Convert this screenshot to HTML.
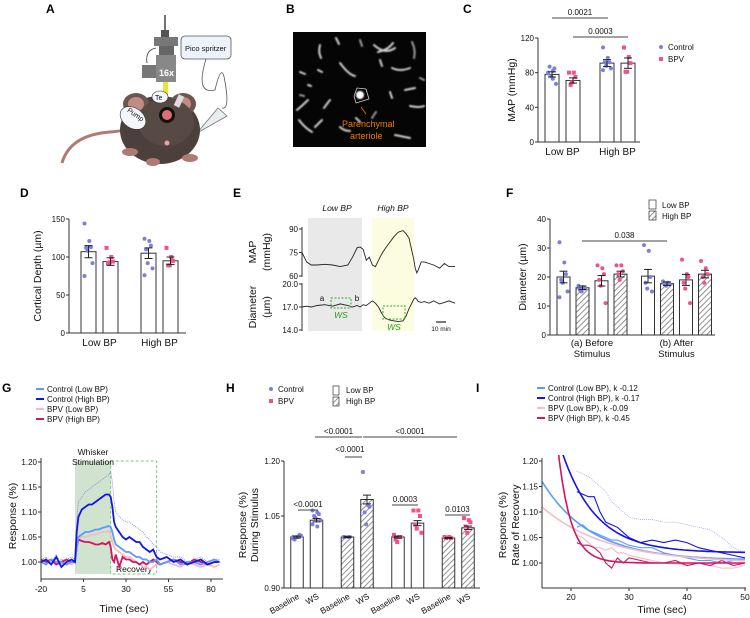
<!DOCTYPE html>
<html><head><meta charset="utf-8">
<style>
html,body{margin:0;padding:0;background:#fff;}
svg{display:block;font-family:"Liberation Sans",Arial,sans-serif;}
</style></head>
<body>
<svg id="fig" width="750" height="618" viewBox="0 0 750 618" xmlns="http://www.w3.org/2000/svg">
<defs>
<pattern id="hatch" patternUnits="userSpaceOnUse" width="4" height="4" patternTransform="rotate(45)">
<rect width="4" height="4" fill="#fff"/><line x1="0" y1="0" x2="0" y2="4" stroke="#777" stroke-width="1.6"/>
</pattern>
<clipPath id="clipI"><rect x="542" y="455" width="205" height="134"/></clipPath>
<filter id="soft" x="-10%" y="-10%" width="120%" height="120%"><feGaussianBlur stdDeviation="0.8"/></filter>
</defs>

<!-- Panel labels -->
<g font-weight="bold" font-size="12" fill="#000">
<text x="46" y="13">A</text>
<text x="286" y="13">B</text>
<text x="463" y="13">C</text>
<text x="20" y="197">D</text>
<text x="233" y="197">E</text>
<text x="506" y="197">F</text>
<text x="2" y="392">G</text>
<text x="226" y="392">H</text>
<text x="476" y="392">I</text>
</g>

<!-- Panel A illustration -->
<g id="panelA">
<path d="M62 163 Q70 135 110 132 Q125 131 128 128" stroke="#b07a72" stroke-width="3" fill="none"/>
<line x1="165" y1="15" x2="165" y2="33" stroke="#444" stroke-width="1.5"/>
<rect x="161" y="30" width="8" height="7" fill="#555"/>
<rect x="154" y="37" width="24" height="9" fill="#777"/>
<rect x="159" y="46" width="15" height="9" fill="#666"/>
<rect x="156" y="55" width="20" height="27" fill="#888"/>
<rect x="142" y="65" width="14" height="13" fill="#777"/>
<text x="159" y="76" font-size="9" font-weight="bold" fill="#fff">16x</text>
<path d="M156 48 Q145 50 147 63" stroke="#333" fill="none" stroke-width="0.8"/>
<rect x="163" y="82" width="5" height="28" fill="#e6e63a"/>
<rect x="181" y="36" width="50" height="23" rx="4" fill="#eef3fb" stroke="#555" stroke-width="0.8"/>
<text x="185" y="51" font-size="7.5" fill="#111">Pico spritzer</text>
<path d="M206 59 Q195 95 215 90 Q222 60 225 82 Q230 110 222 108" stroke="#555" fill="none" stroke-width="0.8"/>
<polygon points="197,133 218,108 227,116" fill="#e8eef0" stroke="#777" stroke-width="0.8"/>
<ellipse cx="160" cy="130" rx="40" ry="34" fill="#4b403c"/>
<ellipse cx="136" cy="104" rx="13" ry="11" fill="#6b5650"/><ellipse cx="136" cy="104" rx="8" ry="7" fill="#c48a86"/>
<ellipse cx="183" cy="104" rx="13" ry="11" fill="#6b5650"/><ellipse cx="183" cy="104" rx="8" ry="7" fill="#c48a86"/>
<ellipse cx="166" cy="122" rx="28" ry="24" fill="#574a45"/>
<circle cx="167" cy="115" r="8" fill="#111"/><circle cx="167" cy="115" r="5" fill="#e07070"/>
<circle cx="167" cy="143" r="2.5" fill="#e8a0a0"/>
<ellipse cx="133" cy="118" rx="14" ry="10" fill="#f4f6fb" stroke="#333" stroke-width="0.6" transform="rotate(35 133 118)"/>
<text x="124" y="116" font-size="7" transform="rotate(35 133 118)" fill="#111">Pump</text>
<ellipse cx="160" cy="97" rx="8" ry="6" fill="#f4f6fb" stroke="#333" stroke-width="0.6"/>
<text x="155" y="100" font-size="7" fill="#111">Te</text>
<rect x="176" y="95" width="6" height="12" fill="#ddd" transform="rotate(25 179 101)"/>
<ellipse cx="130" cy="152" rx="8" ry="4" fill="#b07a72"/><ellipse cx="190" cy="158" rx="8" ry="4" fill="#b07a72"/><ellipse cx="153" cy="162" rx="7" ry="4" fill="#b07a72"/>
</g>

<!-- Panel B image -->
<g id="panelB">
<rect x="293" y="32" width="133" height="115" fill="#050505"/>
<g stroke="#cfcfcf" stroke-linecap="round" fill="none" stroke-width="2" filter="url(#soft)">
<path d="M320 45 Q318 52 321 58"/><path d="M336 38 L339 44"/><path d="M374 45 Q385 55 395 48"/><path d="M393 43 Q388 50 378 52"/>
<path d="M300 72 L305 74"/><path d="M340 63 Q349 75 355 76"/><path d="M318 70 L322 72"/><path d="M410 68 Q400 72 392 68"/>
<path d="M297 110 Q303 105 308 100"/><path d="M315 127 L322 120"/><path d="M330 100 Q326 105 324 108"/><path d="M390 92 L392 98"/>
<path d="M405 90 L415 88"/><path d="M340 127 Q344 131 350 131"/><path d="M395 135 L410 138"/><path d="M299 120 Q305 128 312 132"/>
<path d="M410 106 Q420 108 424 106"/><path d="M380 60 L382 66"/><path d="M356 118 L360 122"/><path d="M308 85 L311 86"/>
<path d="M412 42 Q416 50 414 58" stroke="#999"/><path d="M360 40 L362 46" stroke="#999"/><path d="M300 95 L304 96" stroke="#999"/>
<path d="M420 78 L424 80" stroke="#999"/><path d="M372 118 L376 112" stroke="#999"/>
</g>
<circle cx="360" cy="95" r="4" fill="#fff" filter="url(#soft)"/>
<polygon points="354,96 357,88 366,89 369,99 356,103" fill="none" stroke="#ccc" stroke-width="0.8"/>
<line x1="366" y1="114" x2="361" y2="107" stroke="#f07a00" stroke-width="0.8"/>
<text x="342" y="127" font-size="9" fill="#f07a00">Parenchymal</text>
<text x="350" y="139" font-size="9" fill="#f07a00">arteriole</text>
</g>

<g id="charts"></g>
</svg>

<script>
// ===================== DATA =====================
// Panel C (MAP)
const cCategories = ["Low BP", "High BP"];
const cMeans = [78, 71, 91, 91];
const cErr = [3, 3, 4, 6];
const cDots = [[79,82,85,87,76,67,80,73],[80,80,75,66,69],[109,97,92,92,88,85,83],[109,98,91,81,81]];
const cTicks = [0, 40, 80, 120];
// Panel D (Cortical depth)
const dMeans = [107, 94, 105, 95];
const dErr = [8, 5, 7, 5];
const dDots = [[144,121,113,112,108,92,75],[112,100,94,92,93],[124,121,115,110,92,85,76],[112,100,95,89,89]];
const dTicks = [0, 50, 100, 150];
// Panel E traces
const eTime = [0,3,6,10,15,20,25,30,33,36,38,40,42,44,46,48,50,52,54,57,60,63,66,68,70,72,73,74,75,76,78,80,83,86,90,93,96,100];
const eMap = [75,69,67,67,67.5,67,66,67,72,78,78.5,77,70,72,67,66,70,74,77,81,85,88,89,87,84,75,71,65,62,64,69,69,68,67,65,68,66,66];
const eDiam = [17,17.1,17.0,17.2,17.3,17.1,17.4,17.2,17.0,17.2,17.0,17.3,17.2,17.5,17.8,17.5,17.0,16.2,15.6,15.3,15.2,15.1,15.2,15.8,16.8,17.6,18.0,18.2,18.0,17.7,17.6,17.7,17.5,17.8,17.4,17.6,17.8,17.5];
const eMapTicks = [60, 75, 90];
const eDiamTicks = [14.0, 17.0, 20.0];
// Panel F (Diameter)
const fCategories = ["(a) Before|Stimulus", "(b) After|Stimulus"];
const fMeans = [20, 16.3, 18.7, 21, 20.3, 17.7, 19, 21];
const fErr = [2, 0.6, 1.8, 1, 2.3, 0.6, 1.9, 1.3];
const fDots = [[32,25,21,19,18,15,13],[17,16.5,16,15.5,15],[24,23,21,19,17,11],[24,24,22,21,19],[31,29,20,18,16,15],[18.5,18,17.5,17.5,17],[26,21,20,18,16,11],[25.5,23,21,20,18]];
const fTicks = [0, 10, 20, 30, 40];
// Panel G (time course)
const gTime = [-20,-17,-14,-11,-8,-5,-2,0,1,2,4,6,8,10,12,14,16,18,20,21,22,23,24,26,28,30,32,34,36,38,40,42,44,46,48,50,54,58,62,66,70,74,78,82,85];
const gCtrlHigh = [1.0,1.005,0.995,1.01,0.99,1.0,1.005,1.0,1.06,1.09,1.105,1.11,1.115,1.115,1.12,1.125,1.13,1.135,1.135,1.13,1.11,1.08,1.07,1.06,1.05,1.045,1.05,1.045,1.04,1.04,1.03,1.025,1.02,1.025,1.01,1.005,1.01,1.0,1.005,0.995,1.0,1.005,0.995,1.0,1.0];
const gCtrlHighUpper = [1.005,1.01,1.0,1.015,0.995,1.005,1.01,1.005,1.08,1.12,1.13,1.14,1.145,1.15,1.155,1.16,1.165,1.17,1.175,1.18,1.16,1.12,1.1,1.09,1.085,1.08,1.08,1.075,1.07,1.065,1.06,1.05,1.045,1.035,1.03,1.02,1.015,1.01,1.01,1.0,1.005,1.01,1.0,1.005,1.005];
const gCtrlLow = [1.0,0.995,1.005,1.0,1.0,0.995,1.0,1.0,1.03,1.05,1.055,1.06,1.06,1.062,1.065,1.065,1.068,1.07,1.072,1.07,1.06,1.045,1.035,1.03,1.025,1.02,1.02,1.015,1.01,1.01,1.005,1.005,1.0,1.0,1.005,0.995,1.0,1.005,0.995,1.0,1.0,0.995,1.0,1.005,1.0];
const gBpvLow = [1.005,1.0,1.0,0.995,1.005,1.0,0.995,1.0,1.03,1.045,1.05,1.05,1.052,1.055,1.055,1.058,1.06,1.06,1.062,1.055,1.04,1.03,1.025,1.02,1.015,1.01,1.01,1.005,1.0,0.995,0.99,0.99,0.985,0.99,0.995,0.995,1.0,0.995,0.99,1.0,0.995,0.99,0.995,0.99,0.995];
const gBpvHigh = [1.005,1.0,1.005,0.995,1.0,1.005,1.0,1.0,1.03,1.045,1.042,1.04,1.04,1.038,1.035,1.035,1.038,1.035,1.04,1.03,1.005,1.0,1.015,0.99,1.01,1.005,1.005,1.0,1.0,0.995,1.0,0.995,1.0,1.005,1.0,0.995,1.0,1.005,1.0,0.995,1.005,1.0,0.995,1.0,1.0];
const gXTicks = [-20, 5, 30, 55, 80];
const gYTicks = [1.00, 1.05, 1.10, 1.15, 1.20];
// Panel H
const hCategories = ["Baseline","WS","Baseline","WS","Baseline","WS","Baseline","WS"];
const hMeans = [1.0, 1.04, 1.0, 1.095, 1.0, 1.033, 0.998, 1.022];
const hErr = [0.002, 0.004, 0.001, 0.012, 0.002, 0.006, 0.001, 0.004];
const hDots = [[1.0,1.0,1.005,0.995,1.0,1.003,0.997,1.0],[1.065,1.06,1.055,1.05,1.045,1.04,1.03,1.025],[1.0,1.0,1.0,1.0],[1.17,1.08,1.075,1.06,1.03],[1.005,1.0,1.0,0.995,0.99],[1.065,1.065,1.05,1.03,1.02,1.01],[1.0,1.0,0.998,0.998],[1.045,1.04,1.035,1.025,1.01]];
const hYTicks = [0.90, 1.05, 1.20];
// Panel I
const iTime = [21,22,23,24,25,26,27,28,29,30,32,34,36,38,40,42,44,46,48,50];
const iCtrlHigh = [1.14,1.135,1.13,1.13,1.10,1.08,1.075,1.07,1.06,1.05,1.04,1.045,1.04,1.045,1.04,1.03,1.025,1.02,1.015,1.01];
const iCtrlHighUpper = [1.18,1.175,1.17,1.16,1.15,1.14,1.12,1.11,1.10,1.09,1.085,1.085,1.08,1.08,1.075,1.07,1.065,1.05,1.03,1.02];
const iCtrlLow = [1.07,1.075,1.065,1.06,1.055,1.05,1.045,1.045,1.04,1.035,1.03,1.03,1.02,1.015,1.01,1.005,1.005,1.0,1.005,1.005];
const iBpvLow = [1.055,1.05,1.04,1.03,1.03,1.025,1.03,1.02,1.02,1.015,1.01,1.005,1.0,1.0,0.995,1.0,0.995,0.99,0.99,0.995];
const iBpvHigh = [1.04,1.035,1.035,1.03,1.02,1.0,0.99,1.01,1.0,1.01,1.005,1.0,1.0,1.005,0.995,1.0,0.995,1.005,0.995,1.0];
const iK = [0.12, 0.17, 0.09, 0.45];
const iPlateau = [1.005, 1.02, 1.0, 1.0];
const iAmp15 = [0.155, 0.356, 0.11, 0.77];
const iXTicks = [20, 30, 40, 50];
const iYTicks = [1.00, 1.05, 1.10, 1.15, 1.20];
const seriesNames = ["Control (Low BP)", "Control (High BP)", "BPV (Low BP)", "BPV (High BP)"];

// ===================== HELPERS =====================
const NS = "http://www.w3.org/2000/svg";
const root = document.getElementById("charts");
function mk(tag, attrs, parent) {
  const e = document.createElementNS(NS, tag);
  for (const k in attrs) e.setAttribute(k, attrs[k]);
  (parent || root).appendChild(e);
  return e;
}
function txt(x, y, s, size, parent, extra) {
  const t = mk("text", Object.assign({x: x, y: y, "font-size": size, fill: "#111"}, extra || {}), parent);
  t.textContent = s;
  return t;
}
const CTRL = "#7a7fe0", BPV = "#f2508c";
const COL = ["#5b9bff", "#1414e6", "#f4bcc4", "#d4145e"];

function yAxis(g, x, ticks, yf, fmt, y0, y1) {
  const ax = mk("line", {x1: x, y1: y0, x2: x, y2: y1, stroke: "#333", "stroke-width": 1}, g);
  
  
  ticks.forEach(v => {
    const y = yf(v);
    mk("line", {x1: x - 3, y1: y, x2: x, y2: y, stroke: "#333"}, g);
    const t = txt(x - 4, y + 3, fmt(v), 8, g, {"text-anchor": "end"});
    
    
  });
}
function rotLabel(x, y, s, size, g) {
  const t = txt(x, y, s, size, g, {"text-anchor": "middle", transform: "rotate(-90 " + x + " " + y + ")"});
  
  
  return t;
}
function barGroup(g, xc, w, mean, err, dots, yf, hatched, dotColor, square) {
  const yb = yf(mean);
  const r = mk("rect", {x: xc - w/2, y: yb, width: w, height: yf.bottom - yb, fill: hatched ? "url(#hatch)" : "#fff", stroke: "#333", "stroke-width": 1}, g);
  
  
  dots.forEach((v, j) => {
    const dx = ((j % 3) - 1) * 3.2 + (j % 2 ? 0.8 : -0.8);
    let d;
    if (square) d = mk("rect", {x: xc + dx - 2, y: yf(v) - 2, width: 4, height: 4, fill: dotColor}, g);
    else d = mk("circle", {cx: xc + dx, cy: yf(v), r: 2, fill: dotColor}, g);
    
    
  });
  const e1 = yf(mean + err), e2 = yf(mean - err);
  mk("line", {x1: xc, y1: e1, x2: xc, y2: e2, stroke: "#222", "stroke-width": 1}, g);
  mk("line", {x1: xc - 4, y1: e1, x2: xc + 4, y2: e1, stroke: "#222"}, g);
  mk("line", {x1: xc - 4, y1: e2, x2: xc + 4, y2: e2, stroke: "#222"}, g);
}
function sig(g, x1, x2, y, label) {
  const l = mk("line", {x1: x1, y1: y, x2: x2, y2: y, stroke: "#444", "stroke-width": 1}, g);
  
  
  const t = txt((x1 + x2) / 2, y - 3, label, 8, g, {"text-anchor": "middle"});
  
  
}
function pathFrom(xs, ys, xf, yf) {
  return xs.map((t, i) => (i ? "L" : "M") + xf(t).toFixed(1) + " " + yf(ys[i]).toFixed(1)).join(" ");
}

// ===================== PANEL C =====================
(function () {
  const g = mk("g", {});
  
  
  const yf = v => 142 - v * (104 / 120); yf.bottom = 142;
  const xC = i => 552 + i * 21 + (i >= 2 ? 13 : 0);
  cMeans.forEach((m, i) => barGroup(g, xC(i), 14, m, cErr[i], cDots[i], yf, false, i % 2 ? BPV : CTRL, i % 2 === 1));
  yAxis(g, 538, cTicks, yf, v => String(v), 38, 142);
  mk("line", {x1: 538, y1: 142, x2: 640, y2: 142, stroke: "#333"}, g);
  cCategories.forEach((c, k) => {
    const t = txt((xC(2 * k) + xC(2 * k + 1)) / 2, 155, c, 10, g, {"text-anchor": "middle"});
    
    
  });
  rotLabel(515, 90, "MAP (mmHg)", 10.5, g);
  sig(g, 552, 608, 18, "0.0021");
  sig(g, 573, 628, 37, "0.0003");
  const l1 = mk("circle", {cx: 661, cy: 47, r: 2, fill: CTRL}, g);
  
  
  txt(668, 50, "Control", 8, g);
  const l2 = mk("rect", {x: 659, y: 57, width: 4, height: 4, fill: BPV}, g);
  
  
  txt(668, 62, "BPV", 8, g);
})();

// ===================== PANEL D =====================
(function () {
  const g = mk("g", {});
  
  
  const yf = v => 333 - v * (114 / 150); yf.bottom = 333;
  const xD = i => 88.5 + i * 22 + (i >= 2 ? 16 : 0);
  dMeans.forEach((m, i) => barGroup(g, xD(i), 15, m, dErr[i], dDots[i], yf, false, i % 2 ? BPV : CTRL, i % 2 === 1));
  yAxis(g, 69, dTicks, yf, v => String(v), 219, 333);
  mk("line", {x1: 69, y1: 333, x2: 186, y2: 333, stroke: "#333"}, g);
  cCategories.forEach((c, k) => {
    const t = txt((xD(2 * k) + xD(2 * k + 1)) / 2, 346, c, 10, g, {"text-anchor": "middle"});
    
    
  });
  rotLabel(41, 276, "Cortical Depth (µm)", 10.5, g);
})();

// ===================== PANEL E =====================
(function () {
  const g = mk("g", {});
  
  
  const xf = t => 302 + t * 1.53;
  const ym = v => 229 + (90 - v) * (47 / 30);
  const yd = v => 284 + (20 - v) * (46 / 6);
  const s1 = mk("rect", {x: 308, y: 218, width: 54, height: 113, fill: "#e9e9e9"}, g);
  
  
  const s2 = mk("rect", {x: 372, y: 218, width: 42, height: 113, fill: "#fcfce0"}, g);
  
  
  txt(337, 211, "Low BP", 8.5, g, {"text-anchor": "middle", "font-style": "italic"});
  txt(393, 211, "High BP", 8.5, g, {"text-anchor": "middle", "font-style": "italic"});
  yAxis(g, 302, eMapTicks, ym, v => String(v), 227, 277);
  yAxis(g, 302, eDiamTicks, yd, v => v.toFixed(1), 283, 331);
  const p1 = mk("path", {d: pathFrom(eTime, eMap, xf, ym), fill: "none", stroke: "#222", "stroke-width": 0.9}, g);
  
  
  const p2 = mk("path", {d: pathFrom(eTime, eDiam, xf, yd), fill: "none", stroke: "#222", "stroke-width": 0.9}, g);
  
  
  const b1 = mk("rect", {x: 331, y: 298, width: 20, height: 10, fill: "none", stroke: "#3a3", "stroke-dasharray": "2,1.5"}, g);
  
  
  const b2 = mk("rect", {x: 383, y: 306, width: 22, height: 13, fill: "none", stroke: "#3a3", "stroke-dasharray": "2,1.5"}, g);
  
  
  txt(341, 318, "WS", 8.5, g, {"text-anchor": "middle", "font-style": "italic", fill: "#2a9a2a"});
  txt(394, 330, "WS", 8.5, g, {"text-anchor": "middle", "font-style": "italic", fill: "#2a9a2a"});
  txt(322, 301, "a", 8, g, {"text-anchor": "middle"});
  txt(357, 301, "b", 8, g, {"text-anchor": "middle"});
  mk("line", {x1: 436, y1: 322, x2: 446, y2: 322, stroke: "#222", "stroke-width": 1.2}, g);
  txt(441, 331, "10 min", 6.5, g, {"text-anchor": "middle"});
  rotLabel(256, 252, "MAP", 10.5, g);
  rotLabel(270, 252, "(mmHg)", 10.5, g);
  rotLabel(256, 307, "Diameter", 10.5, g);
  rotLabel(270, 307, "(µm)", 10.5, g);
})();

// ===================== PANEL F =====================
(function () {
  const g = mk("g", {});
  
  
  const yf = v => 335 - v * 2.9; yf.bottom = 335;
  const xF = i => 563.5 + i * 19 + (i >= 4 ? 8.5 : 0);
  fMeans.forEach((m, i) => barGroup(g, xF(i), 13, m, fErr[i], fDots[i], yf, i % 2 === 1, (i % 4) < 2 ? CTRL : BPV, false));
  yAxis(g, 550, fTicks, yf, v => String(v), 219, 335);
  mk("line", {x1: 550, y1: 335, x2: 715, y2: 335, stroke: "#333"}, g);
  fCategories.forEach((c, k) => {
    const cx = (xF(4 * k) + xF(4 * k + 3)) / 2;
    const parts = c.split("|");
    const t1 = txt(cx, 346, parts[0], 9.5, g, {"text-anchor": "middle"});
    
    
    txt(cx, 357, parts[1], 9.5, g, {"text-anchor": "middle"});
  });
  rotLabel(526, 277, "Diameter (µm)", 10.5, g);
  sig(g, 582, 667, 241, "0.038");
  const lb1 = mk("rect", {x: 649, y: 200, width: 7, height: 9, fill: "#fff", stroke: "#333", "stroke-width": 0.7}, g);
  
  
  txt(662, 208, "Low BP", 8, g);
  const lb2 = mk("rect", {x: 649, y: 211, width: 7, height: 9, fill: "url(#hatch)", stroke: "#333", "stroke-width": 0.7}, g);
  
  
  txt(662, 219, "High BP", 8, g);
})();

// ===================== SERIES LEGEND =====================
function seriesLegend(g, x, y0, labels) {
  labels.forEach((s, i) => {
    const y = y0 + i * 10;
    const l = mk("line", {x1: x, y1: y, x2: x + 8, y2: y, stroke: COL[i], "stroke-width": 2}, g);
    
    
    txt(x + 11, y + 3, s, 8, g);
  });
}

// ===================== PANEL G =====================
(function () {
  const g = mk("g", {});
  
  
  const xf = t => 41 + (t + 20) * 1.7;
  const yf = v => 562 - (v - 1) * 500;
  seriesLegend(g, 36, 389, seriesNames);
  const sh = mk("rect", {x: xf(0), y: 461, width: xf(21) - xf(0), height: 113, fill: "#cfe3cf"}, g);
  
  
  const rb = mk("rect", {x: xf(21), y: 461, width: xf(48) - xf(21), height: 113, fill: "none", stroke: "#7c7", "stroke-dasharray": "3,2"}, g);
  
  
  txt(93, 455, "Whisker", 8.5, g, {"text-anchor": "middle"});
  txt(93, 465, "Stimulation", 8.5, g, {"text-anchor": "middle"});
  txt(134, 572, "Recovery", 8.5, g, {"text-anchor": "middle"});
  const up = mk("path", {d: pathFrom(gTime, gCtrlHighUpper, xf, yf), fill: "none", stroke: "#7070f0", "stroke-width": 0.7, "stroke-dasharray": "1,1"}, g);
  
  
  [[gBpvLow, 2], [gBpvHigh, 3], [gCtrlLow, 0], [gCtrlHigh, 1]].forEach(([arr, ci]) => {
    const p = mk("path", {d: pathFrom(gTime, arr, xf, yf), fill: "none", stroke: COL[ci], "stroke-width": 1.8}, g);
    
    
  });
  yAxis(g, 41, gYTicks, yf, v => v.toFixed(2), 458, 579);
  const xa = mk("line", {x1: 41, y1: 579, x2: 223, y2: 579, stroke: "#333"}, g);
  
  
  gXTicks.forEach(t => {
    mk("line", {x1: xf(t), y1: 579, x2: xf(t), y2: 582, stroke: "#333"}, g);
    const l = txt(xf(t), 592, String(t), 8.5, g, {"text-anchor": "middle"});
    
    
  });
  const xt = txt(124, 612, "Time (sec)", 10.5, g, {"text-anchor": "middle"});
  
  
  rotLabel(16, 516, "Response (%)", 10.5, g);
})();

// ===================== PANEL H =====================
(function () {
  const g = mk("g", {});
  
  
  const kv = [0.90, 1.0, 1.05, 1.20], kp = [588, 537, 516, 461];
  const yf = v => {
    if (v <= kv[1]) return kp[0] + (v - kv[0]) / (kv[1] - kv[0]) * (kp[1] - kp[0]);
    if (v <= kv[2]) return kp[1] + (v - kv[1]) / (kv[2] - kv[1]) * (kp[2] - kp[1]);
    return kp[2] + (v - kv[2]) / (kv[3] - kv[2]) * (kp[3] - kp[2]);
  };
  yf.bottom = 588;
  const xH = i => 297 + (i % 2) * 19.5 + Math.floor(i / 2) * 50.5;
  hMeans.forEach((m, i) => barGroup(g, xH(i), 12.5, m, hErr[i], hDots[i], yf, Math.floor(i / 2) % 2 === 1, i < 4 ? CTRL : BPV, i >= 4));
  yAxis(g, 284, hYTicks, yf, v => v.toFixed(2), 461, 588);
  mk("line", {x1: 284, y1: 588, x2: 480, y2: 588, stroke: "#333"}, g);
  hCategories.forEach((c, i) => {
    const x = xH(i) + 3, y = 598;
    const t = txt(x, y, c, 8.5, g, {"text-anchor": "end", transform: "rotate(-30 " + x + " " + y + ")"});
    
    
  });
  sig(g, 315, 362, 437, "<0.0001");
  sig(g, 363, 457, 437, "<0.0001");
  sig(g, 345, 362, 457, "");
  txt(350, 452, "<0.0001", 8, g, {"text-anchor": "middle"});
  sig(g, 298, 318, 510, "<0.0001");
  sig(g, 392, 418, 505, "0.0003");
  sig(g, 445, 470, 515, "0.0103");
  rotLabel(246, 525, "Response (%)", 10.5, g);
  rotLabel(258, 525, "During Stimulus", 10.5, g);
  const m1 = mk("circle", {cx: 271, cy: 389, r: 2, fill: CTRL}, g);
  
  
  txt(278, 392, "Control", 8, g);
  const m2 = mk("rect", {x: 269, y: 399, width: 4, height: 4, fill: BPV}, g);
  
  
  txt(278, 404, "BPV", 8, g);
  const h1 = mk("rect", {x: 333, y: 386, width: 6, height: 9, fill: "#fff", stroke: "#333", "stroke-width": 0.7}, g);
  
  
  txt(346, 393, "Low BP", 8, g);
  const h2 = mk("rect", {x: 333, y: 397, width: 6, height: 9, fill: "url(#hatch)", stroke: "#333", "stroke-width": 0.7}, g);
  
  
  txt(346, 404, "High BP", 8, g);
})();

// ===================== PANEL I =====================
(function () {
  const g = mk("g", {});
  
  
  const xf = t => 542 + (t - 15) * 5.8;
  const yf = v => 563 - (v - 1) * 510;
  seriesLegend(g, 537, 388, seriesNames.map((s, i) => s + ", k -" + iK[i].toFixed(2)));
  const c = mk("g", {"clip-path": "url(#clipI)"}, g);
  const up = mk("path", {d: pathFrom(iTime, iCtrlHighUpper, xf, yf), fill: "none", stroke: "#9a9af4", "stroke-width": 0.7, "stroke-dasharray": "1,1"}, c);
  
  
  [[iBpvLow, 2], [iBpvHigh, 3], [iCtrlLow, 0], [iCtrlHigh, 1]].forEach(([arr, ci]) => {
    const p = mk("path", {d: pathFrom(iTime, arr, xf, yf), fill: "none", stroke: COL[ci], "stroke-width": 1.1}, c);
    
    
  });
  iK.forEach((k, i) => {
    const ts = [], vs = [];
    for (let t = 15; t <= 50; t += 0.5) { ts.push(t); vs.push(iPlateau[i] + iAmp15[i] * Math.exp(-k * (t - 15))); }
    const p = mk("path", {d: pathFrom(ts, vs, xf, yf), fill: "none", stroke: COL[i], "stroke-width": 1.6}, c);
    
    
  });
  yAxis(g, 542, iYTicks, yf, v => v.toFixed(2), 458, 588);
  mk("line", {x1: 542, y1: 588, x2: 746, y2: 588, stroke: "#333"}, g);
  iXTicks.forEach(t => {
    mk("line", {x1: xf(t), y1: 588, x2: xf(t), y2: 591, stroke: "#333"}, g);
    const l = txt(xf(t), 600, String(t), 8.5, g, {"text-anchor": "middle"});
    
    
  });
  const xt = txt(662, 613, "Time (sec)", 10.5, g, {"text-anchor": "middle"});
  
  
  rotLabel(506, 525, "Response (%)", 10.5, g);
  rotLabel(519, 525, "Rate of Recovery", 10.5, g);
})();
</script>
</body></html>
